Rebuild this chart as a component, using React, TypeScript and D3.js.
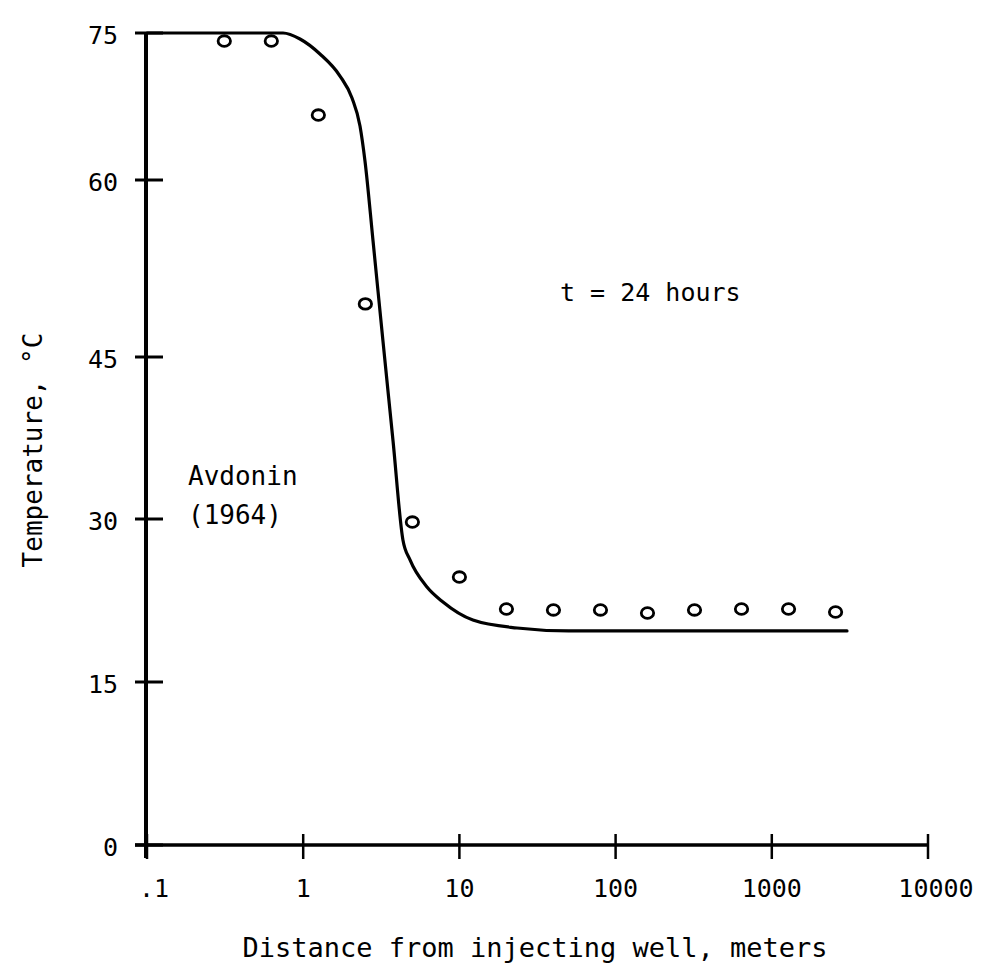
import React from "react";
import * as d3 from "d3";

// Distance from the injecting well (m) and computed temperature (°C) along the curve
const curveDistance = [0.1, 0.743, 0.954, 1.28, 1.72, 2.053, 2.31, 2.486, 2.8, 3.24, 3.76, 4.35, 4.83, 6.2, 7.85, 12.2, 23.4, 50, 3030];
const curveTemp = [75, 75, 74.39, 72.86, 70.61, 68.37, 65.51, 61.94, 54.83, 46.36, 37.22, 28.07, 26.23, 23.74, 22.36, 20.7, 19.97, 19.7, 19.7];

// Avdonin (1964) values
const pointDistance = [0.3125, 0.625, 1.25, 2.5, 5, 10, 20, 40, 80, 160, 320, 640, 1280, 2560];
const pointTemp = [74.18, 74.18, 66.63, 49.5, 29.72, 24.66, 21.72, 21.63, 21.63, 21.35, 21.63, 21.72, 21.72, 21.44];

const xTicks = [0.1, 1, 10, 100, 1000, 10000];
const xTickLabels = [".1", "1", "10", "100", "1000", "10000"];
const yTicks = [0, 15, 30, 45, 60, 75];

const W = 984;
const H = 969;
const FONT = "'DejaVu Sans Mono', monospace";

export default function App() {
  const x = d3.scaleLog().domain([0.1, 10000]).range([147, 928]);
  // hand-ruled temperature axis: tick spacing is not perfectly even
  const y = d3.scaleLinear().domain(yTicks).range([845, 682, 519, 357, 180, 33]);

  const curve = curveDistance.map((d, i) => [d, curveTemp[i]] as [number, number]);
  const line = d3
    .line<[number, number]>()
    .x((d) => x(d[0]))
    .y((d) => y(d[1]))
    .curve(d3.curveMonotoneX);

  const axisX = x(0.1) - 1;
  const axisY = y(0);

  const labelShift = (i: number) => (i === 0 ? 7 : i === xTicks.length - 1 ? 8 : 0);

  return (
    <svg
      width={W}
      height={H}
      style={{ position: "absolute", left: 0, top: 0, background: "#fff" }}
      fontFamily={FONT}
    >
      <rect width={W} height={H} fill="#fff" />

      {/* y axis */}
      <line x1={axisX} x2={axisX} y1={y(75)} y2={axisY + 13} stroke="#000" strokeWidth={4} />
      {yTicks.map((t) => (
        <g key={"y" + t}>
          <line x1={axisX - 11} x2={axisX + 17} y1={y(t)} y2={y(t)} stroke="#000" strokeWidth={3} />
          <text x={118} y={y(t) + 2} textAnchor="end" dominantBaseline="central" fontSize={25} fill="#000">
            {t}
          </text>
        </g>
      ))}

      {/* x axis */}
      <line x1={axisX - 11} x2={x(10000) + 1} y1={axisY} y2={axisY} stroke="#000" strokeWidth={3.5} />
      {xTicks.map((t, i) => (
        <g key={"x" + t}>
          <line x1={x(t)} x2={x(t)} y1={axisY - 11} y2={axisY + 14} stroke="#000" strokeWidth={2.5} />
          <text x={x(t) + labelShift(i)} y={897} textAnchor="middle" fontSize={25} fill="#000">
            {xTickLabels[i]}
          </text>
        </g>
      ))}

      {/* computed curve */}
      <path d={line(curve) ?? ""} fill="none" stroke="#000" strokeWidth={3.2} strokeLinejoin="round" strokeLinecap="round" />

      {/* Avdonin points */}
      {pointDistance.map((d, i) => (
        <ellipse key={"p" + i} cx={x(d)} cy={y(pointTemp[i])} rx={6.2} ry={5.3} fill="#fff" stroke="#000" strokeWidth={2.8} />
      ))}

      {/* annotations */}
      <text x={560} y={301} fontSize={25} fill="#000">t = 24 hours</text>
      <text x={188} y={485} fontSize={26} fill="#000">Avdonin</text>
      <text x={188} y={524} fontSize={26} fill="#000">(1964)</text>

      {/* axis titles */}
      <text x={535} y={957} textAnchor="middle" fontSize={27} fill="#000">
        Distance from injecting well, meters
      </text>
      <text transform={`translate(42,450) rotate(-90)`} textAnchor="middle" fontSize={26} fill="#000">
        Temperature, °C
      </text>
    </svg>
  );
}
